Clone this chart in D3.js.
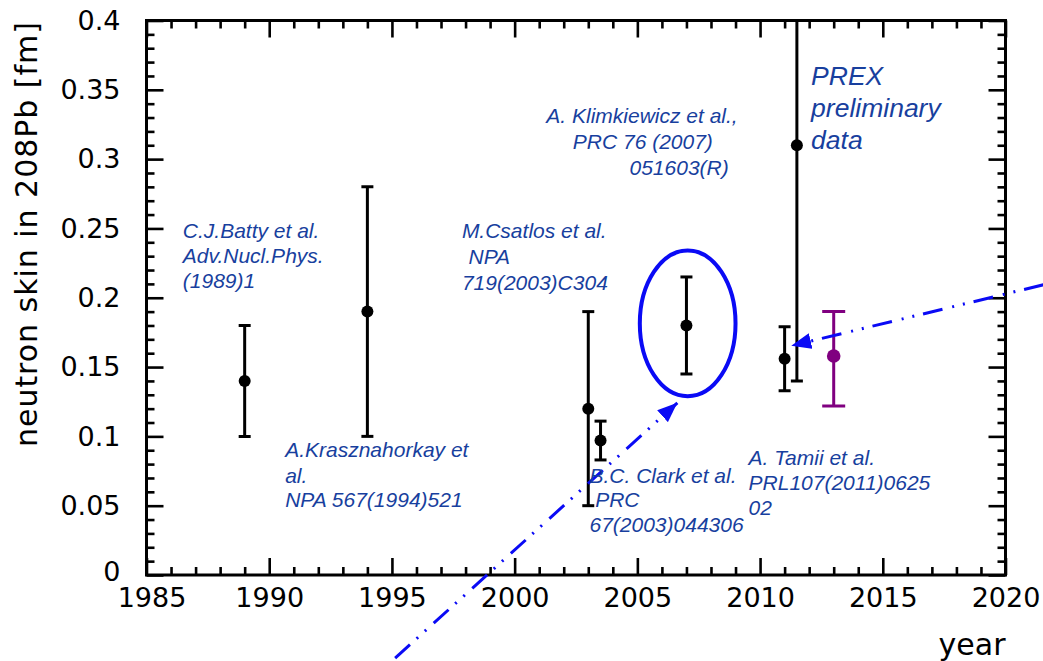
<!DOCTYPE html>
<html>
<head>
<meta charset="utf-8">
<script src="https://cdn.jsdelivr.net/npm/d3@7"></script>
<style>
  html, body { margin: 0; padding: 0; background: #fff; }
  svg { display: block; }
</style>
</head>
<body>
<svg id="chart" width="1043" height="661"></svg>
<script>
// Neutron skin thickness of 208Pb by year of publication
const years    = [1989, 1994, 2003, 2003.5, 2007, 2011, 2011.5];
const skin     = [0.14, 0.19, 0.12, 0.097, 0.18, 0.156, 0.31];
const errLow   = [0.04, 0.09, 0.07, 0.014, 0.035, 0.023, 0.17];
const errHigh  = [0.04, 0.09, 0.07, 0.014, 0.035, 0.023, 0.17];

// Projected measurement (drawn in purple)
const projYear = [2013];
const projSkin = [0.158];
const projLow  = [0.036];
const projHigh = [0.032];

// Axis ticks
const xMajor = [1985, 1990, 1995, 2000, 2005, 2010, 2015, 2020];
const xLabels = ["1985", "1990", "1995", "2000", "2005", "2010", "2015", "2020"];
const yMajor = [0, 0.05, 0.1, 0.15, 0.2, 0.25, 0.3, 0.35, 0.4];
const yLabels = ["0", "0.05", "0.1", "0.15", "0.2", "0.25", "0.3", "0.35", "0.4"];

// Reference notes: [text, year, skin]
const noteLines = [
  ["C.J.Batty et al.", 1986.48, 0.2431],
  ["Adv.Nucl.Phys.", 1986.48, 0.2250],
  ["(1989)1", 1986.48, 0.2070],
  ["A.Krasznahorkay et", 1990.65, 0.0850],
  ["al.", 1990.65, 0.0666],
  ["NPA 567(1994)521", 1990.65, 0.0489],
  ["M.Csatlos et al.", 1997.85, 0.2431],
  ["NPA", 1998.12, 0.2245],
  ["719(2003)C304", 1997.85, 0.2058],
  ["A. Klimkiewicz et al.,", 2001.29, 0.3261],
  ["PRC 76 (2007)", 2002.37, 0.3074],
  ["051603(R)", 2004.68, 0.2888],
  ["B.C. Clark et al.", 2003.05, 0.0666],
  ["PRC", 2003.28, 0.0489],
  ["67(2003)044306", 2003.05, 0.0308],
  ["A. Tamii et al.", 2009.53, 0.0794],
  ["PRL107(2011)0625", 2009.53, 0.0614],
  ["02", 2009.53, 0.0433]
];
const prexLines = [
  ["PREX", 2012.08, 0.3538],
  ["preliminary", 2012.08, 0.3307],
  ["data", 2012.08, 0.3076]
];

// Highlight ring around the 2007 point and the two pointer arrows
const ringYear = [2005.1, 2009.0];
const ringSkin = [0.129, 0.234];
const arrowFromYear = [1995.13, 2021.55];
const arrowFromSkin = [-0.0599, 0.2094];
const arrowToYear   = [2006.63, 2011.27];
const arrowToSkin   = [0.1242, 0.1653];

const svg = d3.select("#chart");
const L = 146.5, R = 1005.5, T = 20.5, B = 575;

const x = d3.scaleLinear().domain([1985, 2020]).range([L, R]);
const y = d3.scaleLinear().domain([0, 0.4]).range([B, T]);

const TEXT_BLUE = "#183f9e";
const RING_BLUE = "#0a0af5";

// clip for the data marks
svg.append("defs").append("clipPath").attr("id", "plotClip")
  .append("rect").attr("x", L).attr("y", T).attr("width", R - L).attr("height", B - T);

// arrowhead marker
svg.select("defs").append("marker")
  .attr("id", "head")
  .attr("markerUnits", "userSpaceOnUse")
  .attr("viewBox", "0 0 20 16")
  .attr("refX", 20).attr("refY", 8)
  .attr("markerWidth", 20).attr("markerHeight", 16)
  .attr("orient", "auto")
  .append("path").attr("d", "M0,0 L20,8 L0,16 Z").attr("fill", RING_BLUE);

// ---- axes: ticks on all four sides, pointing inward ----
const xMinor = d3.range(1985, 2021, 1).filter(v => !xMajor.includes(v));
const yMinor = d3.range(0, 41, 1).map(v => v / 100).filter(v => Math.round(v * 100) % 5 !== 0);

function styleAxis(g) {
  g.select(".domain").remove();
  g.selectAll(".tick line").attr("stroke", "#000").attr("stroke-width", 2.6);
  g.selectAll(".tick text").attr("fill", "#000")
    .style("font-family", "'DejaVu Sans', sans-serif").style("font-size", "27px");
}

const xAxisG = svg.append("g").attr("transform", `translate(0,${B})`)
  .call(d3.axisBottom(x).tickValues(xMajor).tickSize(-17).tickPadding(13)
    .tickFormat((d, i) => xLabels[i]))
  .call(styleAxis);
// first year label sits just right of the corner so it clears the "0"
xAxisG.selectAll(".tick text").filter((d, i) => i === 0).attr("x", 5);

svg.append("g").attr("transform", `translate(0,${B})`)
  .call(d3.axisBottom(x).tickValues(xMinor).tickSize(-8).tickFormat(""))
  .call(styleAxis);
svg.append("g").attr("transform", `translate(0,${T})`)
  .call(d3.axisTop(x).tickValues(xMajor).tickSize(-17).tickFormat(""))
  .call(styleAxis);
svg.append("g").attr("transform", `translate(0,${T})`)
  .call(d3.axisTop(x).tickValues(xMinor).tickSize(-8).tickFormat(""))
  .call(styleAxis);

const yAxisG = svg.append("g").attr("transform", `translate(${L},0)`)
  .call(d3.axisLeft(y).tickValues(yMajor).tickSize(-17).tickPadding(26)
    .tickFormat((d, i) => yLabels[i]))
  .call(styleAxis);
yAxisG.selectAll(".tick text").filter((d, i) => i === 0).attr("dy", "0.2em");

svg.append("g").attr("transform", `translate(${L},0)`)
  .call(d3.axisLeft(y).tickValues(yMinor).tickSize(-8).tickFormat(""))
  .call(styleAxis);
svg.append("g").attr("transform", `translate(${R},0)`)
  .call(d3.axisRight(y).tickValues(yMajor).tickSize(-17).tickFormat(""))
  .call(styleAxis);
svg.append("g").attr("transform", `translate(${R},0)`)
  .call(d3.axisRight(y).tickValues(yMinor).tickSize(-8).tickFormat(""))
  .call(styleAxis);

// frame
svg.append("rect")
  .attr("x", L).attr("y", T).attr("width", R - L).attr("height", B - T)
  .attr("fill", "none").attr("stroke", "#000").attr("stroke-width", 3);

// axis titles
svg.append("text")
  .attr("transform", `translate(37,${(22 + 447) / 2}) rotate(-90)`)
  .attr("text-anchor", "middle")
  .attr("textLength", 425).attr("lengthAdjust", "spacing")
  .style("font-family", "'DejaVu Sans', sans-serif").style("font-size", "30px")
  .text("neutron skin in 208Pb [fm]");
svg.append("text")
  .attr("x", R).attr("y", 655).attr("text-anchor", "end")
  .style("font-family", "'DejaVu Sans', sans-serif").style("font-size", "30px")
  .text("year");

// ---- error bars ----
function errorBars(g, xs, ys, lo, hi, color, capHalf, r) {
  const d = xs.map((v, i) => ({ x: v, y: ys[i], lo: ys[i] - lo[i], hi: ys[i] + hi[i] }));
  const grp = g.append("g").attr("clip-path", "url(#plotClip)");
  grp.selectAll(null).data(d).enter().append("line")
    .attr("x1", p => x(p.x)).attr("x2", p => x(p.x))
    .attr("y1", p => y(p.lo)).attr("y2", p => y(p.hi))
    .attr("stroke", color).attr("stroke-width", 3);
  ["lo", "hi"].forEach(k => {
    grp.selectAll(null).data(d).enter().append("line")
      .attr("x1", p => x(p.x) - capHalf).attr("x2", p => x(p.x) + capHalf)
      .attr("y1", p => y(p[k])).attr("y2", p => y(p[k]))
      .attr("stroke", color).attr("stroke-width", 3);
  });
  grp.selectAll(null).data(d).enter().append("circle")
    .attr("cx", p => x(p.x)).attr("cy", p => y(p.y)).attr("r", r)
    .attr("fill", color);
}
errorBars(svg, years, skin, errLow, errHigh, "#000", 6, 6);
errorBars(svg, projYear, projSkin, projLow, projHigh, "#800080", 11.5, 6.8);

// ---- highlight ring ----
svg.append("ellipse")
  .attr("cx", (x(ringYear[0]) + x(ringYear[1])) / 2)
  .attr("cy", (y(ringSkin[0]) + y(ringSkin[1])) / 2)
  .attr("rx", (x(ringYear[1]) - x(ringYear[0])) / 2)
  .attr("ry", (y(ringSkin[0]) - y(ringSkin[1])) / 2)
  .attr("fill", "none").attr("stroke", RING_BLUE).attr("stroke-width", 4);

// ---- pointer arrows (dash-dot-dot) ----
svg.selectAll(null).data(arrowFromYear).enter().append("line")
  .attr("x1", (d, i) => x(arrowFromYear[i])).attr("y1", (d, i) => y(arrowFromSkin[i]))
  .attr("x2", (d, i) => x(arrowToYear[i])).attr("y2", (d, i) => y(arrowToSkin[i]))
  .attr("stroke", RING_BLUE).attr("stroke-width", 3)
  .attr("stroke-dasharray", "20,9,2,9,2,10")
  .attr("marker-end", "url(#head)");

// ---- reference notes ----
svg.selectAll(null).data(noteLines).enter().append("text")
  .attr("x", d => x(d[1])).attr("y", d => y(d[2]))
  .attr("fill", TEXT_BLUE)
  .style("font-family", "'Liberation Sans', Arial, sans-serif")
  .style("font-style", "italic").style("font-size", "21px")
  .text(d => d[0]);
svg.selectAll(null).data(prexLines).enter().append("text")
  .attr("x", d => x(d[1])).attr("y", d => y(d[2]))
  .attr("fill", TEXT_BLUE)
  .style("font-family", "'Liberation Sans', Arial, sans-serif")
  .style("font-style", "italic").style("font-size", "26.5px")
  .text(d => d[0]);
</script>
</body>
</html>
